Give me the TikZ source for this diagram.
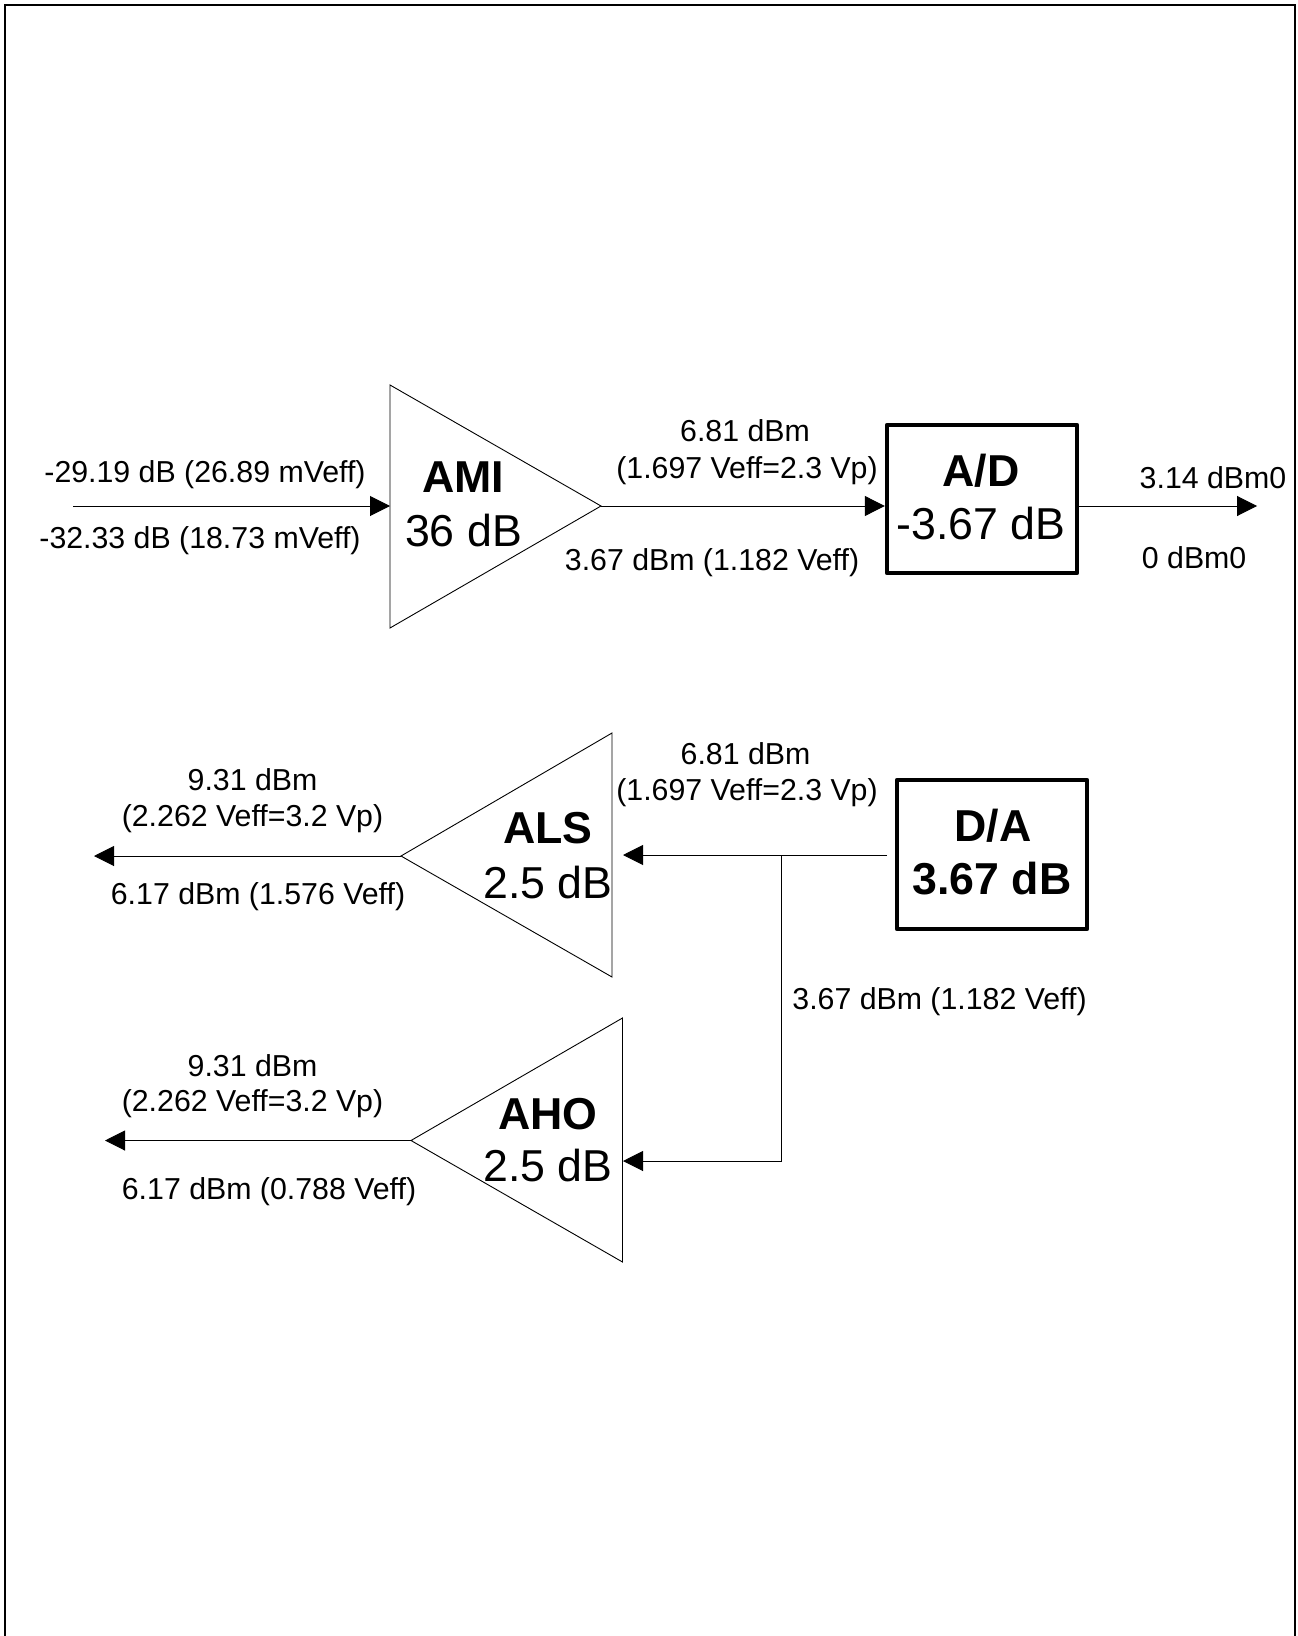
\documentclass[tikz,border=0pt]{standalone}
\usepackage{fontspec}
\setmainfont{Liberation Sans}
\usetikzlibrary{arrows.meta}
\tikzset{
  wire/.style={line width=0.5pt,draw=black},
  arrowed/.style={wire,-{Triangle[length=10pt,width=10pt]}},
  tri/.style={line width=0.45pt,draw=black,line join=miter},
  blockbox/.style={draw=black,line width=2.2pt,line join=round,minimum width=95pt,inner sep=0pt},
  small/.style={anchor=base,inner sep=0pt,font=\fontsize{15.15}{18}\selectfont},
  big/.style={anchor=base,inner sep=0pt,font=\fontsize{22.35}{26}\selectfont},
  bigbold/.style={anchor=base,inner sep=0pt,font=\fontsize{22.35}{26}\selectfont\bfseries},
  frameline/.style={line width=1.25pt,draw=black}
}
\begin{document}
\begin{tikzpicture}[x=0.5pt,y=-0.5pt]
\useasboundingbox (0,0) rectangle (1297,1636);
\draw[frameline] (5,1636) -- (5,5) -- (1295,5) -- (1295,1636);
% AMI
\coordinate (amiTop) at (390,385);
\coordinate (amiBot) at (390,628);
\coordinate (amiTip) at (601,506);
\coordinate (inStart) at (73,506);
\coordinate (amiIn) at (390,506);
\draw[tri] (amiTop) -- (amiTip) -- (amiBot) -- cycle;
\node[blockbox,minimum height=74pt] (ad) at (982,499) {};
\coordinate (adOut) at (1257,506);
\draw[arrowed] (inStart) -- (amiIn);
\draw[arrowed] (amiTip) -- (ad.west |- amiTip);
\draw[arrowed] (ad.east |- adOut) -- (adOut);
\node[small] (t1) at (205,482) {-29.19 dB (26.89 mVeff)};
\node[small] (t2) at (200,548) {-32.33 dB (18.73 mVeff)};
\node[bigbold] (t3) at (463,492) {AMI};
\node[big] (t4) at (463.5,546) {36 dB};
\node[small] (t5) at (745,442) {6.81 dBm};
\node[small] (t6) at (747,478.5) {(1.697 Veff=2.3 Vp)};
\node[small] (t7) at (712,570) {3.67 dBm (1.182 Veff)};
\node[bigbold] (t8) at (981,486) {A/D};
\node[big] (t9) at (981,539) {-3.67 dB};
\node[small] (t10) at (1213,488) {3.14 dBm0};
\node[small,anchor=base west] (t11) at (1141.5,568) {0 dBm0};
% D/A
\node[blockbox,minimum height=74.5pt] (da) at (992,854.5) {};
\coordinate (alsTop) at (612,733);
\coordinate (alsBot) at (612,977);
\coordinate (alsTip) at (401,856);
\coordinate (alsIn) at (623,855);
\coordinate (alsOut) at (94,856);
\coordinate (ahoTop) at (622.5,1018);
\coordinate (ahoBot) at (622.5,1262);
\coordinate (ahoTip) at (411,1140.5);
\coordinate (ahoIn) at (623,1161);
\coordinate (ahoOut) at (105,1140.5);
\coordinate (daStart) at (887,855);
\coordinate (branch) at (781,855);
\coordinate (corner) at (781,1161);
\draw[tri] (alsTop) -- (alsTip) -- (alsBot) -- cycle;
\draw[tri] (ahoTop) -- (ahoTip) -- (ahoBot) -- cycle;
\draw[arrowed] (daStart) -- (alsIn);
\draw[arrowed] (branch) -- (corner) -- (ahoIn);
\draw[arrowed] (alsTip) -- (alsOut);
\draw[arrowed] (ahoTip) -- (ahoOut);
\node[small] (b1) at (745.5,764) {6.81 dBm};
\node[small] (b2) at (747,800) {(1.697 Veff=2.3 Vp)};
\node[bigbold] (b3) at (993,841) {D/A};
\node[bigbold] (b4) at (992,894) {3.67 dB};
\node[small] (b5) at (939.5,1009) {3.67 dBm (1.182 Veff)};
\node[bigbold] (b6) at (548,843) {ALS};
\node[big] (b7) at (548,898) {2.5 dB};
\node[bigbold] (b8) at (548,1129) {AHO};
\node[big] (b9) at (548,1181) {2.5 dB};
\node[small] (b10) at (252.5,790) {9.31 dBm};
\node[small] (b11) at (252.5,826) {(2.262 Veff=3.2 Vp)};
\node[small] (b12) at (258,904) {6.17 dBm (1.576 Veff)};
\node[small] (b13) at (252.5,1076) {9.31 dBm};
\node[small] (b14) at (252.5,1111) {(2.262 Veff=3.2 Vp)};
\node[small] (b15) at (269,1199) {6.17 dBm (0.788 Veff)};
\end{tikzpicture}
\end{document}
